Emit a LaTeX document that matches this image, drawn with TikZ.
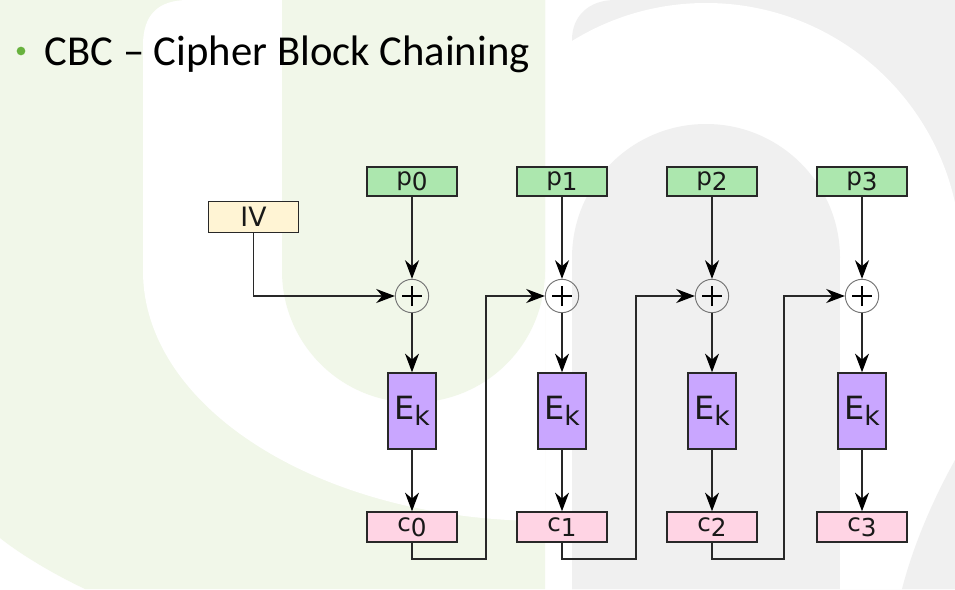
\documentclass[tikz,border=0pt]{standalone}
\usepackage{fontspec}
\setmainfont{Carlito}
\newfontfamily\boxfont{DejaVu Sans}
\usetikzlibrary{arrows.meta}
\definecolor{bggreen}{RGB}{241,247,233}
\definecolor{bggray}{RGB}{240,240,240}
\definecolor{dotgreen}{RGB}{104,178,62}
\definecolor{plaingreen}{RGB}{172,231,174}
\definecolor{ivcream}{RGB}{255,244,212}
\definecolor{encviolet}{RGB}{201,166,255}
\definecolor{cipherpink}{RGB}{255,212,228}
\definecolor{wire}{RGB}{40,40,40}
\newcommand{\lowidx}[1]{\raisebox{-0.2em}{#1}}
\begin{document}
\begin{tikzpicture}[x=0.75pt, y=-0.75pt,
  every node/.style={font=\boxfont\fontsize{18.5}{20}\selectfont, text=black!90},
  plain/.style={rectangle, draw=wire, line width=1.1pt, fill=plaingreen, minimum width=67.5pt, minimum height=21.75pt, inner sep=0pt},
  ivbox/.style={plain, fill=ivcream, minimum height=23pt, font=\boxfont\fontsize{20}{22}\selectfont},
  enc/.style={plain, fill=encviolet, minimum width=36pt, minimum height=57pt, font=\boxfont\fontsize{24}{26}\selectfont},
  ciph/.style={plain, fill=cipherpink, minimum height=22.5pt},
  xor/.style={circle, draw=black!55, line width=0.7pt, minimum size=25pt, inner sep=0pt,
    path picture={\draw[black, line width=1.6pt]
      (path picture bounding box.center) ++(-7.5pt,0) -- ++(15pt,0)
      (path picture bounding box.center) ++(0,-7.5pt) -- ++(0,15pt);}},
  flow/.style={draw=wire, line width=1pt, -{Stealth[length=14pt, width=10.5pt, inset=4.5pt, color=black]}}
]
\useasboundingbox (0,0) rectangle (955,589);
% background of the slide
\fill[white] (0,0) rectangle (955,589);
\fill[bggreen] (0,0) -- (545,0) -- (545,589) -- (85,589) .. controls (45,570) and (15,550) .. (0,538) -- cycle;
\fill[white] (143,271) -- (143,45) .. controls (143,15) and (158,0) .. (188,0) -- (545,0) -- (545,521)
  arc[start angle=90, end angle=180, x radius=402, y radius=250] -- cycle;
\fill[bggreen] (282,0) -- (282,271) arc[start angle=180, end angle=0, radius=131.5] -- (545,0) -- cycle;
\fill[bggray] (572,589) -- (572,40) .. controls (572,15) and (590,0) .. (615,0) -- (955,0) -- (955,589) -- cycle;
\begin{scope}
  \clip (572,0) rectangle (955,589);
  \fill[white] (706,258) circle[radius=255];
\end{scope}
\fill[bggray] (572,589) -- (572,258) arc[start angle=180, end angle=360, radius=134] -- (840,589) -- cycle;
\fill[white] (840,258) rectangle (955,589);
\fill[bggray] (955,460) .. controls (930,505) and (912,550) .. (902,589) -- (955,589) -- cycle;
% title
\node[circle, fill=dotgreen, minimum size=6.5pt, inner sep=0pt] (dot) at (21,51) {};
\node[anchor=base west, font=\fontsize{32}{38}\selectfont, text=black] (title) at (40,65) {CBC – Cipher Block Chaining};
% blocks
\node[ivbox] (IV) at (253.5,217) {IV};
\node[plain] (P0) at (412,181.5) {p\lowidx{0}};
\node[plain] (P1) at (562,181.5) {p\lowidx{1}};
\node[plain] (P2) at (712,181.5) {p\lowidx{2}};
\node[plain] (P3) at (862,181.5) {p\lowidx{3}};
\node[xor] (X0) at (412,296) {};
\node[xor] (X1) at (562,296) {};
\node[xor] (X2) at (712,296) {};
\node[xor] (X3) at (862,296) {};
\node[enc] (E0) at (412,411) {E\lowidx{\fontsize{20}{22}\selectfont k}};
\node[enc] (E1) at (562,411) {E\lowidx{\fontsize{20}{22}\selectfont k}};
\node[enc] (E2) at (712,411) {E\lowidx{\fontsize{20}{22}\selectfont k}};
\node[enc] (E3) at (862,411) {E\lowidx{\fontsize{20}{22}\selectfont k}};
\node[ciph] (C0) at (412,527) {c\lowidx{0}};
\node[ciph] (C1) at (562,527) {c\lowidx{1}};
\node[ciph] (C2) at (712,527) {c\lowidx{2}};
\node[ciph] (C3) at (862,527) {c\lowidx{3}};
\coordinate (B0) at (486,559);
\coordinate (B1) at (636,559);
\coordinate (B2) at (784,559);
% wires
\draw[flow] (IV.south) |- (X0.west);
\draw[flow] (P0) -- (X0);
\draw[flow] (P1) -- (X1);
\draw[flow] (P2) -- (X2);
\draw[flow] (P3) -- (X3);
\draw[flow] (X0) -- (E0);
\draw[flow] (X1) -- (E1);
\draw[flow] (X2) -- (E2);
\draw[flow] (X3) -- (E3);
\draw[flow] (E0) -- (C0);
\draw[flow] (E1) -- (C1);
\draw[flow] (E2) -- (C2);
\draw[flow] (E3) -- (C3);
\draw[flow] (C0.south) |- (B0) |- (X1.west);
\draw[flow] (C1.south) |- (B1) |- (X2.west);
\draw[flow] (C2.south) |- (B2) |- (X3.west);
\end{tikzpicture}
\end{document}
